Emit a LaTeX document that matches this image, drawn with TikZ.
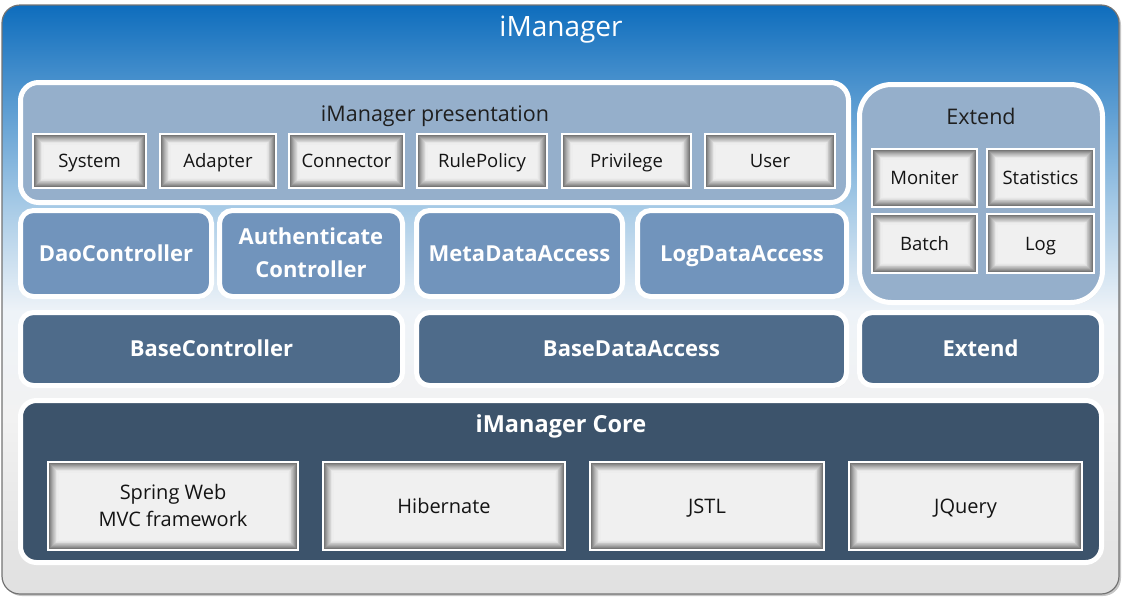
\documentclass[tikz,border=0pt]{standalone}
\usepackage{fontspec}
\setmainfont{Open Sans}
\usetikzlibrary{shadows}
\definecolor{presblue}{HTML}{95AFCB}
\definecolor{midblue}{HTML}{7194BC}
\definecolor{baseblue}{HTML}{4E6B8A}
\definecolor{coreblue}{HTML}{3C536B}
\definecolor{framebot}{HTML}{E0E0E0}
\definecolor{framelow}{HTML}{F2F2F2}
\definecolor{framewhite}{HTML}{EEF3F8}
\definecolor{framesky}{HTML}{A6CAE6}
\definecolor{frametop}{HTML}{0E6DBD}
\pgfdeclareverticalshading{framesh}{100bp}{color(0bp)=(framebot); color(25bp)=(framebot); color(40bp)=(framelow); color(49bp)=(framewhite); color(58bp)=(framesky); color(75bp)=(frametop); color(100bp)=(frametop)}

\begin{document}
\begin{tikzpicture}[x=1pt, y=-1pt,
    layer/.style={draw=white, line width=5pt, rounded corners=13pt, inner sep=0pt, align=center,
      text=white, font=\bfseries\fontsize{22}{33}\selectfont, text height=16pt, text depth=0.3pt,
      drop shadow={opacity=0.3, shadow xshift=1.5pt, shadow yshift=-2pt}},
    inbox/.style={draw=white, line width=2pt, fill=black!6, inner sep=0pt, align=center,
      text=black!92, font=\fontsize{18.5}{27}\selectfont, text height=13.5pt, text depth=0.3pt,
      path picture={\foreach \k [evaluate=\k as \pct using 64*(1-\k/12)^1.6+6] in {1,...,11}
        \draw[line width=1.2pt, black!\pct] ([shift={(0.9*\k pt,0.9*\k pt)}]path picture bounding box.south west)
          rectangle ([shift={(-0.9*\k pt,-0.9*\k pt)}]path picture bounding box.north east);}},
    corebox/.style={inbox, font=\fontsize{20}{27}\selectfont, text height=14.5pt, text depth=0.2pt},
    headtext/.style={text=black!88, font=\fontsize{21.5}{24}\selectfont, text height=15.4pt, text depth=0pt}]
  \useasboundingbox (0,0) rectangle (1123,598);

  % outer frame
  \shade[shading=framesh, rounded corners=18pt, draw=black!55, line width=1.2pt,
    drop shadow={opacity=0.45, shadow xshift=2pt, shadow yshift=-2pt}] (2,5) rectangle (1119,594);
  \node[text=white, font=\fontsize{28}{32}\selectfont, text height=20pt, text depth=0pt] (title) at (561,26.5) {iManager};

  % presentation
  \node[layer, fill=presblue, minimum width=828pt, minimum height=120pt, rounded corners=18pt] (pres) at (434.5,142.5) {};
  \node[headtext] (prest) at (435,114) {iManager presentation};
  \node[inbox, minimum width=113pt, minimum height=54pt] (sys) at (89.5,161) {System};
  \node[inbox, minimum width=116pt, minimum height=54pt] (adp) at (218,161) {Adapter};
  \node[inbox, minimum width=115pt, minimum height=54pt] (con) at (346.5,161) {Connector};
  \node[inbox, minimum width=130pt, minimum height=54pt] (rule) at (482,161) {RulePolicy};
  \node[inbox, minimum width=129pt, minimum height=54pt] (priv) at (626.5,161) {Privilege};
  \node[inbox, minimum width=130pt, minimum height=54pt] (user) at (770,161) {User};

  % extend
  \node[layer, fill=presblue, minimum width=243pt, minimum height=218pt, rounded corners=32pt] (ext) at (981,193.5) {};
  \node[headtext] (extt) at (981,117) {Extend};
  \node[inbox, minimum width=105pt, minimum height=58pt] (mon) at (924.5,178) {Moniter};
  \node[inbox, minimum width=107pt, minimum height=58pt] (stat) at (1040.5,178) {Statistics};
  \node[inbox, minimum width=105pt, minimum height=59pt] (bat) at (924.5,243.5) {Batch};
  \node[inbox, minimum width=107pt, minimum height=59pt] (log) at (1040.5,243.5) {Log};

  % controllers and data access
  \node[layer, fill=midblue, minimum width=191pt, minimum height=86pt] (dao) at (116,253.5) {DaoController};
  \node[layer, fill=midblue, minimum width=183pt, minimum height=86pt, text height=49pt] (auth) at (311,253.5) {Authenticate\\Controller};
  \node[layer, fill=midblue, minimum width=206pt, minimum height=86pt] (meta) at (519.5,253.5) {MetaDataAccess};
  \node[layer, fill=midblue, minimum width=209pt, minimum height=86pt] (logda) at (742,253.5) {LogDataAccess};

  % base layer
  \node[layer, fill=baseblue, minimum width=382pt, minimum height=73pt] (basec) at (211.5,349) {BaseController};
  \node[layer, fill=baseblue, minimum width=430pt, minimum height=73pt] (based) at (631.5,349) {BaseDataAccess};
  \node[layer, fill=baseblue, minimum width=242pt, minimum height=73pt] (extb) at (980.5,349) {Extend};

  % core
  \node[layer, fill=coreblue, minimum width=1081pt, minimum height=162pt, rounded corners=16pt] (core) at (561,481.5) {};
  \node[text=white, font=\bfseries\fontsize{23.5}{26}\selectfont, text height=16.8pt, text depth=0pt] (coret) at (561,424.5) {iManager Core};
  \node[corebox, minimum width=250pt, minimum height=88pt, text height=41.5pt] (spring) at (173,506) {Spring Web\\MVC framework};
  \node[corebox, minimum width=242pt, minimum height=88pt] (hib) at (444,506) {Hibernate};
  \node[corebox, minimum width=234pt, minimum height=88pt] (jstl) at (707,506) {JSTL};
  \node[corebox, minimum width=233pt, minimum height=88pt] (jq) at (965.5,506) {JQuery};
\end{tikzpicture}
\end{document}
